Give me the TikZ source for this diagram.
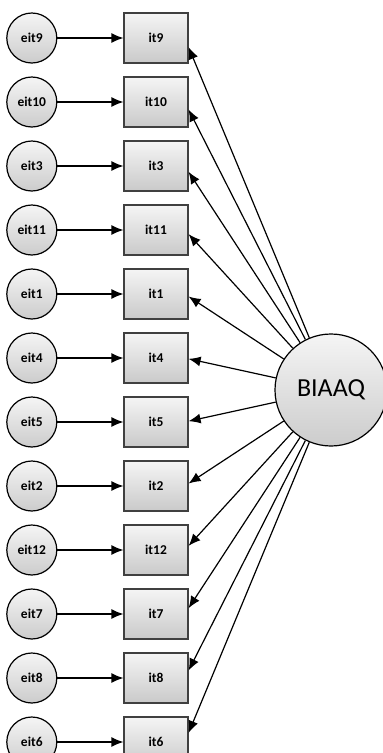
\documentclass[tikz,border=0pt]{standalone}
\usepackage{fontspec}
\setmainfont{Carlito}
\usetikzlibrary{arrows.meta,positioning,calc}

\begin{document}
\begin{tikzpicture}[
    x=1pt, y=1pt,
    node distance=12.8pt and 66pt,
    >={Latex[length=12pt,width=10pt]},
    line width=1.2pt,
    font=\bfseries\fontsize{13.5}{15}\selectfont,
    item/.style={
		rectangle,
		draw=black!75,
		top color=gray!8,
		bottom color=gray!42,
		minimum width=64pt,
		minimum height=50pt
	},
	err/.style={
		circle,
		draw=black,
		top color=gray!8,
		bottom color=gray!40,
		inner sep=0pt,
		minimum size=50pt
	},
	factor/.style={
		circle,
		draw=black,
		top color=gray!8,
		bottom color=gray!40,
		minimum size=112pt,
		font=\mdseries\fontsize{26}{30}\selectfont
	}
  ]
  \useasboundingbox (0,0) rectangle (383,-753);

  % the observed items
  \node [item] (it9) at (156,-38) {it9};
  \node [item, below=of it9] (it10) {it10};
  \node [item, below=of it10] (it3) {it3};
  \node [item, below=of it3] (it11) {it11};
  \node [item, below=of it11] (it1) {it1};
  \node [item, below=of it1] (it4) {it4};
  \node [item, below=of it4] (it5) {it5};
  \node [item, below=of it5] (it2) {it2};
  \node [item, below=of it2] (it12) {it12};
  \node [item, below=of it12] (it7) {it7};
  \node [item, below=of it7] (it8) {it8};
  \node [item, below=of it8] (it6) {it6};

  % error terms
  \node [err, left=of it9] (eit9) {eit9};
  \node [err, left=of it10] (eit10) {eit10};
  \node [err, left=of it3] (eit3) {eit3};
  \node [err, left=of it11] (eit11) {eit11};
  \node [err, left=of it1] (eit1) {eit1};
  \node [err, left=of it4] (eit4) {eit4};
  \node [err, left=of it5] (eit5) {eit5};
  \node [err, left=of it2] (eit2) {eit2};
  \node [err, left=of it12] (eit12) {eit12};
  \node [err, left=of it7] (eit7) {eit7};
  \node [err, left=of it8] (eit8) {eit8};
  \node [err, left=of it6] (eit6) {eit6};

  % the factor
  \node [factor] (biaaq) at ($(it4)!0.5!(it5)+(175,0)$) {BIAAQ};

  \draw [->] (eit9) -- (it9);
  \draw [->] (eit10) -- (it10);
  \draw [->] (eit3) -- (it3);
  \draw [->] (eit11) -- (it11);
  \draw [->] (eit1) -- (it1);
  \draw [->] (eit4) -- (it4);
  \draw [->] (eit5) -- (it5);
  \draw [->] (eit2) -- (it2);
  \draw [->] (eit12) -- (it12);
  \draw [->] (eit7) -- (it7);
  \draw [->] (eit8) -- (it8);
  \draw [->] (eit6) -- (it6);

  \draw [->] (biaaq) -- ($(it9.east)!0.026!(it9.east |- biaaq)$);
  \draw [->] (biaaq) -- ($(it10.east)!0.026!(it10.east |- biaaq)$);
  \draw [->] (biaaq) -- ($(it3.east)!0.026!(it3.east |- biaaq)$);
  \draw [->] (biaaq) -- ($(it11.east)!0.026!(it11.east |- biaaq)$);
  \draw [->] (biaaq) -- ($(it1.east)!0.026!(it1.east |- biaaq)$);
  \draw [->] (biaaq) -- ($(it4.east)!0.026!(it4.east |- biaaq)$);
  \draw [->] (biaaq) -- ($(it5.east)!0.026!(it5.east |- biaaq)$);
  \draw [->] (biaaq) -- ($(it2.east)!0.026!(it2.east |- biaaq)$);
  \draw [->] (biaaq) -- ($(it12.east)!0.026!(it12.east |- biaaq)$);
  \draw [->] (biaaq) -- ($(it7.east)!0.026!(it7.east |- biaaq)$);
  \draw [->] (biaaq) -- ($(it8.east)!0.026!(it8.east |- biaaq)$);
  \draw [->] (biaaq) -- ($(it6.east)!0.026!(it6.east |- biaaq)$);

\end{tikzpicture}
\end{document}
